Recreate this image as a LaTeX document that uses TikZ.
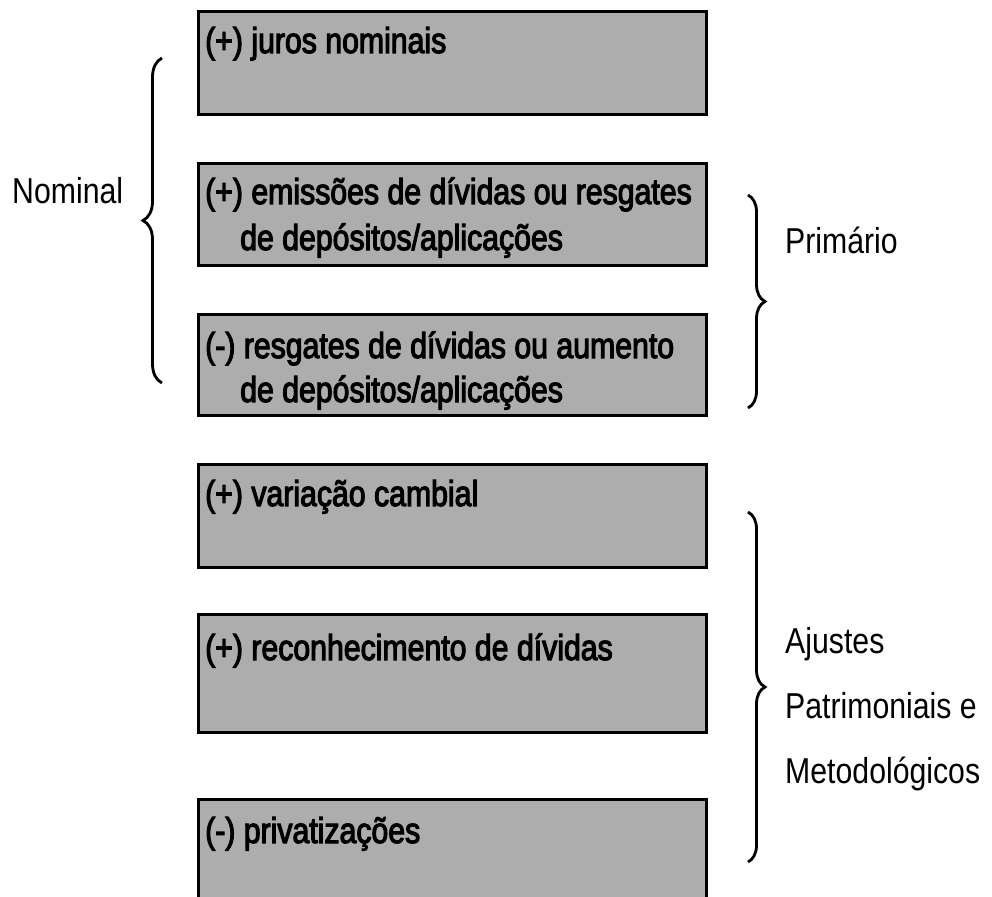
\documentclass[tikz,border=0pt]{standalone}
\usepackage{fontspec}
\usetikzlibrary{decorations.pathreplacing}
\newfontfamily\boxfont[FakeStretch=0.84, FakeBold=3]{Liberation Sans}
\newfontfamily\labfont[FakeStretch=0.84]{Liberation Sans}
\definecolor{boxgray}{gray}{0.68}
\tikzset{
  itembox/.style={draw=black, line width=3pt, fill=boxgray, anchor=north west, inner sep=0pt, minimum width=508pt},
  itemtext/.style={anchor=base west, inner sep=0pt, font=\boxfont\fontsize{36}{43}\selectfont},
  sidelabel/.style={anchor=base west, inner sep=0pt, font=\labfont\fontsize{36}{43}\selectfont},
  curly/.style={decorate, decoration={brace, amplitude=17pt}, line width=2.8pt},
}
\begin{document}
\begin{tikzpicture}[x=1pt, y=1pt]
\useasboundingbox (0,0) rectangle (992,-896);
\clip (0,0) rectangle (992,-896);
\fill[white] (0,0) rectangle (992,-896);

% boxes
\node[itembox, minimum height=103pt] (b1) at (197,-10) {};
\node[itembox, minimum height=102pt] (b2) at (197,-162) {};
\node[itembox, minimum height=101pt] (b3) at (197,-313) {};
\node[itembox, minimum height=103pt] (b4) at (197,-463) {};
\node[itembox, minimum height=118pt] (b5) at (197,-613) {};
\node[itembox, minimum height=110pt] (b6) at (197,-798) {};

% box texts
\node[itemtext] (t1) at (205,-53) {(+) juros nominais};
\node[itemtext] (t2a) at (205,-204) {(+) emissões de dívidas ou resgates};
\node[itemtext] (t2b) at (240,-250) {de depósitos/aplicações};
\node[itemtext] (t3a) at (205,-358) {(-) resgates de dívidas ou aumento};
\node[itemtext] (t3b) at (240,-402) {de depósitos/aplicações};
\node[itemtext] (t4) at (205,-506) {(+) variação cambial};
\node[itemtext] (t5) at (205,-660) {(+) reconhecimento de dívidas};
\node[itemtext] (t6) at (205,-843) {(-) privatizações};

% side labels
\node[sidelabel] (nominal) at (12,-204) {Nominal};
\node[sidelabel] (primario) at (785,-253) {Primário};
\node[sidelabel] (aj1) at (785,-653) {Ajustes};
\node[sidelabel] (aj2) at (785,-718) {Patrimoniais e};
\node[sidelabel] (aj3) at (785,-783) {Metodológicos};

% braces
\coordinate (nomB) at (162,-383);
\coordinate (nomT) at (162,-58);
\coordinate (priT) at (748,-195);
\coordinate (priB) at (748,-408);
\coordinate (ajT) at (748,-512);
\coordinate (ajB) at (748,-862);
\draw[curly, decoration={amplitude=19pt}] (nomB) -- (nomT);
\draw[curly] (priT) -- (priB);
\draw[curly] (ajT) -- (ajB);
\end{tikzpicture}
\end{document}
